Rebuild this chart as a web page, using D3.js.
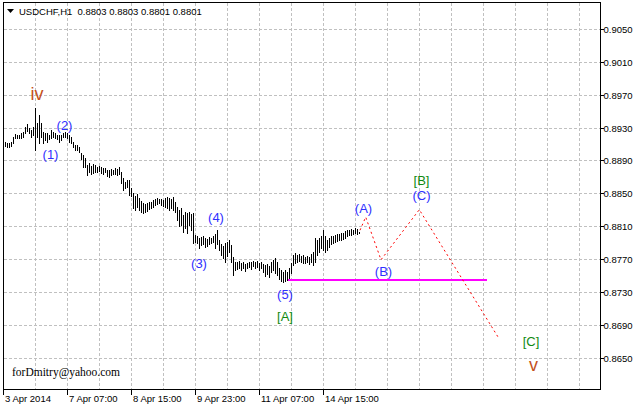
<!DOCTYPE html>
<html><head><meta charset="utf-8">
<script src="https://cdn.jsdelivr.net/npm/d3@7"></script>
<style>body{margin:0;background:#fff}svg{display:block}</style>
</head><body>
<svg id="c" width="635" height="408"></svg>
<script>
// ---------- data ----------
const symbol = "USDCHF,H1";
const lastOHLC = ["0.8803", "0.8803", "0.8801", "0.8801"];
const timeTickIndex = [0, 32, 64, 96, 128, 160];
const timeTickLabels = ["3 Apr 2014", "7 Apr 07:00", "8 Apr 15:00", "9 Apr 23:00", "11 Apr 07:00", "14 Apr 15:00"];
const priceTicks = [0.8650, 0.8690, 0.8730, 0.8770, 0.8810, 0.8850, 0.8890, 0.8930, 0.8970, 0.9010, 0.9050];

// hourly bars, first bar at index 1
const high = [
0.8912,0.8911,0.8911,0.8912,0.8918,0.8922,0.8921,0.8921,0.8923,0.8925,
0.8931,0.8934,0.8929,0.8927,0.8931,0.8954,0.8936,0.8945,0.8936,0.8925,
0.8923,0.8923,0.8921,0.8927,0.8925,0.8923,0.8921,0.8921,0.8921,0.8923,
0.8925,0.8923,0.8921,0.8918,0.8912,0.8909,0.8909,0.8906,0.8899,0.8897,
0.8893,0.8884,0.8887,0.8883,0.8886,0.8884,0.8882,0.8883,0.8882,0.8881,
0.8881,0.8878,0.8878,0.8879,0.8878,0.8881,0.8879,0.8882,0.8876,0.8869,
0.8864,0.8866,0.8866,0.8856,0.8850,0.8847,0.8849,0.8844,0.8841,0.8838,
0.8837,0.8838,0.8839,0.8839,0.8842,0.8843,0.8844,0.8843,0.8843,0.8842,
0.8844,0.8845,0.8844,0.8843,0.8845,0.8839,0.8833,0.8830,0.8832,0.8823,
0.8827,0.8826,0.8827,0.8825,0.8826,0.8799,0.8798,0.8795,0.8797,0.8798,
0.8795,0.8794,0.8797,0.8795,0.8798,0.8800,0.8805,0.8793,0.8788,0.8786,
0.8789,0.8791,0.8793,0.8787,0.8772,0.8766,0.8766,0.8767,0.8765,0.8766,
0.8764,0.8765,0.8766,0.8766,0.8767,0.8766,0.8767,0.8765,0.8766,0.8764,
0.8763,0.8764,0.8761,0.8766,0.8769,0.8771,0.8766,0.8759,0.8757,0.8754,
0.8757,0.8754,0.8759,0.8765,0.8775,0.8777,0.8775,0.8776,0.8774,0.8775,
0.8772,0.8774,0.8772,0.8776,0.8778,0.8795,0.8793,0.8795,0.8798,0.8805,
0.8798,0.8793,0.8795,0.8798,0.8798,0.8799,0.8800,0.8800,0.8802,0.8802,
0.8804,0.8805,0.8805,0.8806,0.8805,0.8808,0.8806,0.8803
];
const low = [
0.8907,0.8906,0.8906,0.8907,0.8911,0.8917,0.8917,0.8917,0.8917,0.8918,
0.8923,0.8926,0.8923,0.8918,0.8921,0.8903,0.8918,0.8911,0.8918,0.8911,
0.8915,0.8912,0.8916,0.8917,0.8918,0.8917,0.8916,0.8912,0.8915,0.8918,
0.8918,0.8917,0.8912,0.8911,0.8906,0.8903,0.8903,0.8900,0.8892,0.8882,
0.8882,0.8872,0.8876,0.8873,0.8875,0.8876,0.8876,0.8877,0.8875,0.8873,
0.8876,0.8871,0.8870,0.8872,0.8873,0.8873,0.8872,0.8873,0.8862,0.8854,
0.8856,0.8858,0.8848,0.8847,0.8832,0.8830,0.8833,0.8830,0.8827,0.8826,
0.8827,0.8828,0.8831,0.8832,0.8833,0.8836,0.8837,0.8838,0.8836,0.8834,
0.8833,0.8832,0.8830,0.8832,0.8830,0.8827,0.8817,0.8810,0.8811,0.8803,
0.8808,0.8802,0.8811,0.8805,0.8789,0.8791,0.8789,0.8783,0.8787,0.8788,
0.8784,0.8786,0.8788,0.8789,0.8791,0.8783,0.8788,0.8781,0.8775,0.8771,
0.8766,0.8774,0.8778,0.8766,0.8750,0.8757,0.8758,0.8759,0.8757,0.8759,
0.8755,0.8759,0.8760,0.8758,0.8761,0.8759,0.8760,0.8757,0.8759,0.8754,
0.8749,0.8752,0.8748,0.8754,0.8757,0.8753,0.8750,0.8745,0.8743,0.8742,
0.8743,0.8744,0.8747,0.8753,0.8763,0.8765,0.8766,0.8767,0.8766,0.8765,
0.8765,0.8766,0.8764,0.8766,0.8763,0.8766,0.8775,0.8778,0.8783,0.8781,
0.8778,0.8781,0.8784,0.8788,0.8789,0.8791,0.8792,0.8793,0.8793,0.8794,
0.8795,0.8798,0.8799,0.8799,0.8800,0.8802,0.8800,0.8801
];

// projected wave path (bar index, price)
const waveIdx = [178.5, 181.35, 189, 208.15, 247.5];
const wavePrice = [0.8805, 0.8821, 0.8769, 0.8830, 0.8675];
// horizontal level
const levelPrice = 0.8744;
const levelFrom = 142.5, levelTo = 242;

// wave labels
const labelText  = ["iv", "(1)", "(2)", "(3)", "(4)", "(5)", "[A]", "(A)", "(B)", "[B]", "(C)", "[C]", "v"];
const labelIdx   = [17, 23.75, 30.75, 98, 106.5, 141, 141, 180.25, 190.25, 209.25, 209.25, 264, 265.25];
const labelPrice = [0.8971, 0.8897, 0.8933, 0.8764, 0.8820, 0.8727, 0.8700, 0.8831, 0.8755, 0.8866, 0.8847, 0.8670, 0.8641];
const labelDegree = ["primary", "minor", "minor", "minor", "minor", "minor", "inter", "minor", "minor", "inter", "minor", "inter", "primary"];
const watermark = "forDmitry@yahoo.com";

// ---------- drawing ----------
const W = 635, H = 408;
const L = 3, R = 600, T = 2, B = 389;
const svg = d3.select("#c");
svg.append("rect").attr("width", W).attr("height", H).attr("fill", "#fff");

const x = d3.scaleLinear().domain([0, 298.5]).range([L, R]);
const y = d3.scaleLinear().domain([0.8650, 0.9050]).range([357.5, 29]);
const px = v => Math.round(x(v)) + 0.5;
const py = v => Math.round(y(v)) + 0.5;

// grid
const grid = svg.append("g").attr("stroke", "#c0c0c0").attr("stroke-dasharray", "3,2").attr("shape-rendering", "crispEdges");
grid.selectAll("line.h").data(priceTicks).join("line")
  .attr("x1", L + 1).attr("x2", R).attr("y1", d => py(d)).attr("y2", d => py(d));
const vIdx = d3.range(16, 298, 16);
grid.selectAll("line.v").data(vIdx).join("line")
  .attr("y1", T + 1).attr("y2", B).attr("x1", d => px(d)).attr("x2", d => px(d));

// bars
const bars = d3.range(high.length).map(i => ({i: i + 1, h: high[i], l: low[i]}));
svg.append("g").attr("stroke", "#000").attr("shape-rendering", "crispEdges")
  .selectAll("line").data(bars).join("line")
  .attr("x1", d => px(d.i)).attr("x2", d => px(d.i))
  .attr("y1", d => Math.round(y(d.h))).attr("y2", d => Math.round(y(d.l)) + 1);

// level line
svg.append("line").attr("stroke", "#ff00ff").attr("stroke-width", 2)
  .attr("x1", x(levelFrom)).attr("x2", x(levelTo))
  .attr("y1", Math.round(y(levelPrice))).attr("y2", Math.round(y(levelPrice)));

// wave projection
const wave = waveIdx.map((d, k) => [x(d), y(wavePrice[k])]);
svg.append("path").attr("d", d3.line()(wave)).attr("fill", "none")
  .attr("stroke", "#ff0000").attr("stroke-width", 1).attr("stroke-dasharray", "2,3");

// labels
const degStyle = {
  minor:   {fill: "#3030ff", size: 13},
  inter:   {fill: "#108a10", size: 13},
  primary: {fill: "#c4501c", size: 18}
};
svg.append("g").attr("font-family", "'Liberation Sans', Arial, sans-serif")
  .selectAll("text").data(labelText).join("text")
  .attr("x", (d, k) => x(labelIdx[k])).attr("y", (d, k) => y(labelPrice[k]))
  .attr("text-anchor", "middle").attr("dominant-baseline", "central")
  .attr("fill", (d, k) => degStyle[labelDegree[k]].fill)
  .attr("font-size", (d, k) => degStyle[labelDegree[k]].size)
  .text(d => d);

// watermark
svg.append("text").attr("x", 12).attr("y", 376)
  .attr("font-family", "'Liberation Serif', 'Times New Roman', serif").attr("font-size", 11.5)
  .attr("fill", "#000").text(watermark);

// frame
svg.append("rect").attr("x", L + 0.5).attr("y", T + 0.5).attr("width", R - L).attr("height", B - T)
  .attr("fill", "none").attr("stroke", "#000").attr("shape-rendering", "crispEdges");

const axisFont = "'Liberation Sans', Arial, sans-serif";
// right price axis
const ya = svg.append("g").attr("font-family", axisFont).attr("font-size", 9.5);
ya.selectAll("line").data(priceTicks).join("line")
  .attr("x1", R + 1).attr("x2", R + 4).attr("y1", d => py(d)).attr("y2", d => py(d))
  .attr("stroke", "#000").attr("shape-rendering", "crispEdges");
ya.selectAll("text").data(priceTicks).join("text")
  .attr("x", R + 3.5).attr("y", d => py(d)).attr("dominant-baseline", "central")
  .attr("fill", "#000").text(d => d3.format(".4f")(d));

// bottom time axis
const xa = svg.append("g").attr("font-family", axisFont).attr("font-size", 9.5);
xa.selectAll("line").data(timeTickIndex).join("line")
  .attr("x1", d => px(d)).attr("x2", d => px(d)).attr("y1", B + 1).attr("y2", B + 6)
  .attr("stroke", "#000").attr("shape-rendering", "crispEdges");
xa.selectAll("text").data(timeTickLabels).join("text")
  .attr("x", (d, k) => px(timeTickIndex[k]) + 1.5).attr("y", 402)
  .attr("fill", "#000").text(d => d);

// header
svg.append("path").attr("d", "M7,9L14,9L10.5,13Z").attr("fill", "#000");
svg.append("text").attr("x", 19).attr("y", 15).attr("font-family", axisFont).attr("font-size", 9.5)
  .attr("fill", "#000").attr("xml:space", "preserve")
  .text(symbol + "  " + lastOHLC.join(" "));
</script>
</body></html>
